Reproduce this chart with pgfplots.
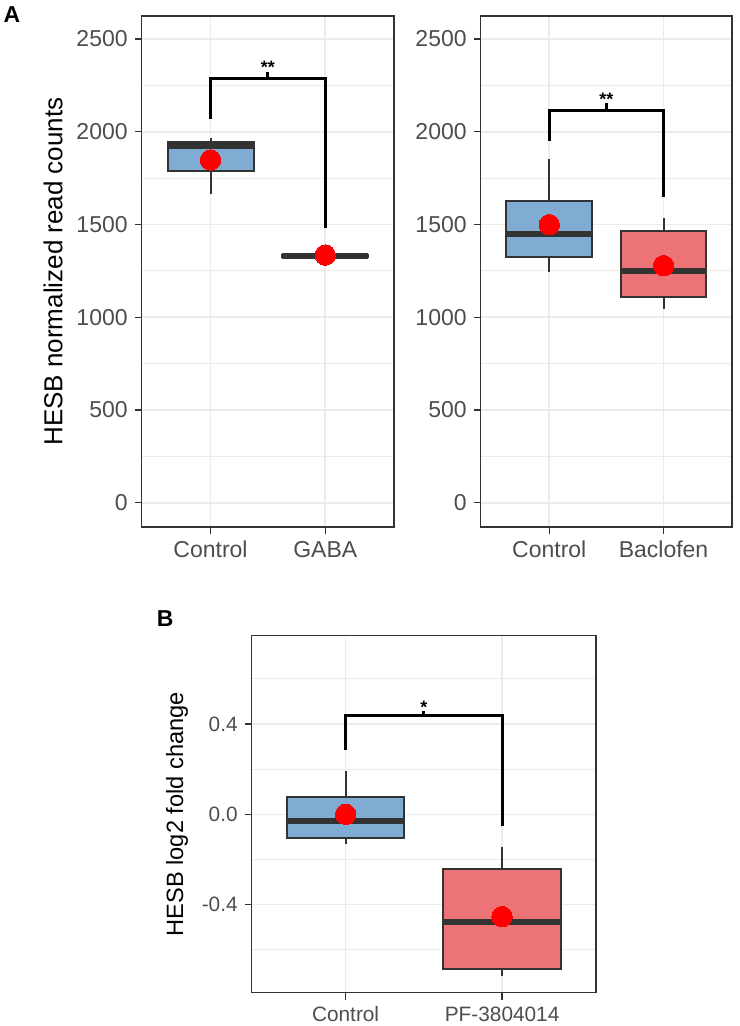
\documentclass[border=0pt]{standalone}
\usepackage{pgfplots}
\pgfplotsset{compat=1.18}
\usepackage{fontspec}
\setmainfont{Liberation Sans}
\definecolor{boxblue}{HTML}{80ABD2}
\definecolor{boxred}{HTML}{EC7476}
\definecolor{edge}{HTML}{333333}
\definecolor{gridgray}{HTML}{EBEBEB}
\definecolor{ticktext}{HTML}{4D4D4D}

\pgfplotsset{
  ggbox/.style={
    scale only axis,
    xmin=0.4, xmax=2.6,
    xtick={1,2},
    tick align=outside,
    tick pos=left,
    major tick length=3.5pt,
    every major tick/.style={edge, line width=0.7pt},
    every minor tick/.style={draw=none},
    axis line style={edge, line width=0.75pt},
    xmajorgrids, ymajorgrids, yminorgrids,
    major grid style={gridgray, line width=0.8pt},
    minor grid style={gridgray, line width=0.5pt},
    ticklabel style={ticktext},
  },
  meanpt/.style={red, only marks, mark=*, mark size=5.1pt, mark options={draw=red, fill=red, line width=0pt}},
  bracket/.style={black, line width=1.5pt, line join=miter},
}
\newcommand{\starfont}{\fontsize{9}{10}\selectfont\bfseries}
% box: left x, centre x, right x, lower whisker, lower quartile, median, upper quartile, upper whisker, fill
\newcommand{\ggboxplot}[9]{%
  \addplot[edge, line width=1pt] coordinates {(#2,#4) (#2,#5)};
  \addplot[edge, line width=1pt] coordinates {(#2,#7) (#2,#8)};
  \addplot[draw=edge, line width=1pt, fill=#9] coordinates {(#1,#5) (#3,#5) (#3,#7) (#1,#7)} -- cycle;
  \addplot[edge, line width=3pt] coordinates {(#1,#6) (#3,#6)};
}

\begin{document}
\begin{tikzpicture}
\useasboundingbox (0,0) rectangle (369.5pt,-513pt);

% panel labels
\node[anchor=base west, inner sep=0] at (1.6pt,-11.35pt) {\fontsize{11.5}{13}\selectfont\bfseries A};
\node[anchor=base west, inner sep=0] at (78.2pt,-313.3pt) {\fontsize{11.5}{13}\selectfont\bfseries B};

% ---- A, left: Control vs GABA
\begin{axis}[ggbox,
  at={(70.85pt,-8pt)}, anchor=north west,
  width=126.2pt, height=255.5pt,
  ymin=-131, ymax=2624,
  ytick={0,500,1000,1500,2000,2500},
  yticklabels={0,500,1000,1500,2000,2500},
  minor ytick={250,750,1250,1750,2250},
  xticklabels={Control,GABA},
  ticklabel style={font=\fontsize{11.5}{13}\selectfont},
  ylabel={HESB normalized read counts},
  ylabel style={font=\fontsize{13}{15}\selectfont, black},
]
\ggboxplot{0.625}{1}{1.375}{1664}{1788}{1925}{1942}{1965}{boxblue}
\ggboxplot{1.625}{2}{2.375}{1318}{1322}{1328}{1334}{1340}{boxred}
\addplot[meanpt] coordinates {(1,1848) (2,1335)};
\addplot[bracket] coordinates {(1,2069) (1,2288) (2,2288) (2,1483)};
\addplot[bracket] coordinates {(1.5,2288) (1.5,2324)};
\node[anchor=base, inner sep=0] at (axis cs:1.5,2316) {\starfont **};
\end{axis}

% ---- A, right: Control vs Baclofen
\begin{axis}[ggbox,
  at={(240.35pt,-8pt)}, anchor=north west,
  width=125.7pt, height=255.5pt,
  ymin=-131, ymax=2624,
  ytick={0,500,1000,1500,2000,2500},
  yticklabels={0,500,1000,1500,2000,2500},
  minor ytick={250,750,1250,1750,2250},
  xticklabels={Control,Baclofen},
  ticklabel style={font=\fontsize{11.5}{13}\selectfont},
]
\ggboxplot{0.625}{1}{1.375}{1242}{1323}{1447}{1628}{1851}{boxblue}
\ggboxplot{1.625}{2}{2.375}{1046}{1107}{1251}{1467}{1535}{boxred}
\addplot[meanpt] coordinates {(1,1499) (2,1278)};
\addplot[bracket] coordinates {(1,1952) (1,2117) (2,2117) (2,1650)};
\addplot[bracket] coordinates {(1.5,2117) (1.5,2153)};
\node[anchor=base, inner sep=0] at (axis cs:1.5,2143) {\starfont **};
\end{axis}

% ---- B: Control vs PF-3804014
\begin{axis}[ggbox,
  at={(125.85pt,-317.85pt)}, anchor=north west,
  width=172.15pt, height=178.5pt,
  ymin=-0.790, ymax=0.791,
  ytick={-0.4,0,0.4},
  yticklabels={-0.4,0.0,0.4},
  minor ytick={-0.6,-0.2,0.2,0.6},
  xticklabels={Control,PF-3804014},
  ticklabel style={font=\fontsize{10.4}{12}\selectfont},
  ylabel={HESB log2 fold change},
  ylabel style={font=\fontsize{11.8}{14}\selectfont, black},
]
\ggboxplot{0.625}{1}{1.375}{-0.132}{-0.105}{-0.028}{0.077}{0.193}{boxblue}
\ggboxplot{1.625}{2}{2.375}{-0.715}{-0.685}{-0.476}{-0.244}{-0.146}{boxred}
\addplot[meanpt] coordinates {(1,0.0) (2,-0.453)};
\addplot[bracket] coordinates {(1,0.285) (1,0.437) (2,0.437) (2,-0.052)};
\addplot[bracket] coordinates {(1.5,0.437) (1.5,0.457)};
\node[anchor=base, inner sep=0] at (axis cs:1.5,0.4455) {\starfont *};
\end{axis}
\end{tikzpicture}
\end{document}
